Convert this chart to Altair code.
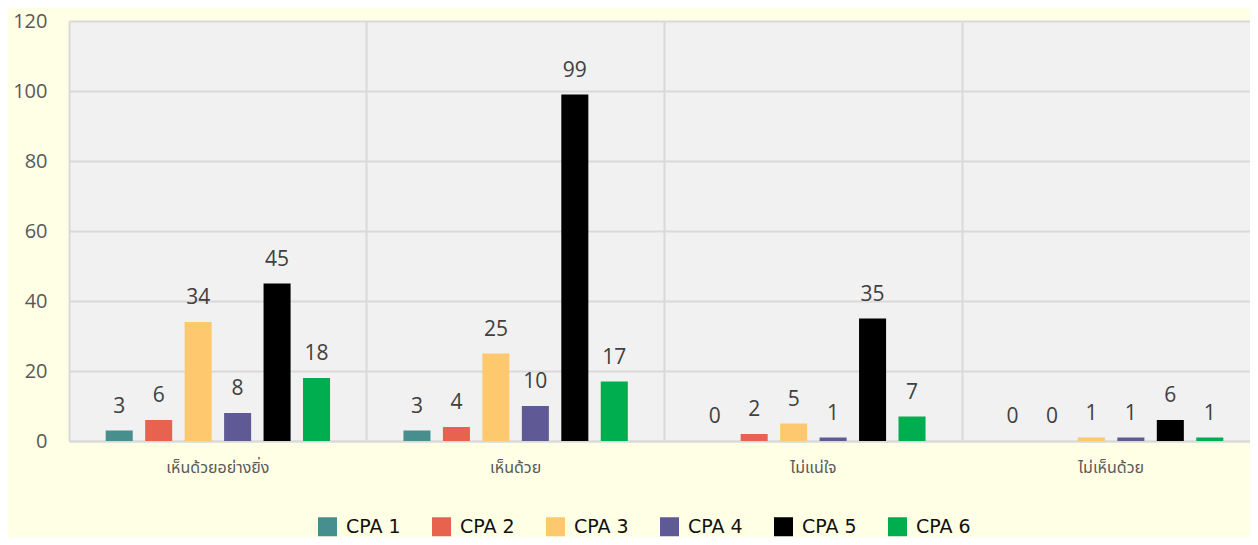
import altair as alt
import pandas as pd

categories = ["เห็นด้วยอย่างยิ่ง", "เห็นด้วย", "ไม่แน่ใจ", "ไม่เห็นด้วย"]
series = ["CPA 1", "CPA 2", "CPA 3", "CPA 4", "CPA 5", "CPA 6"]
cpa1 = [3, 3, 0, 0]
cpa2 = [6, 4, 2, 0]
cpa3 = [34, 25, 5, 1]
cpa4 = [8, 10, 1, 1]
cpa5 = [45, 99, 35, 6]
cpa6 = [18, 17, 7, 1]
colors = ["#468F8E", "#E8634F", "#FDC86E", "#5F5A96", "#000000", "#00AD4F"]
y_ticks = [0, 20, 40, 60, 80, 100, 120]

rows = []
for s, vals in zip(series, [cpa1, cpa2, cpa3, cpa4, cpa5, cpa6]):
    for c, v in zip(categories, vals):
        rows.append({"category": c, "series": s, "value": v})
df = pd.DataFrame(rows)

GRID = "#D9D9D9"
NUMFONT = "Open Sans"
THAIFONT = "Tahoma, Leelawadee UI, Noto Sans Thai, DejaVu Sans, sans-serif"

base = alt.Chart(df).encode(
    x=alt.X(
        "category:N",
        sort=categories,
        scale=alt.Scale(range=[0, 1191], paddingInner=0, paddingOuter=0),
        axis=alt.Axis(
            title=None, labelAngle=0, grid=True, bandPosition=0,
            gridColor=GRID, gridWidth=2, ticks=False,
            domainColor=GRID, domainWidth=2,
            labelFont=THAIFONT, labelFontSize=16, labelColor="#595959",
            labelPadding=18,
        ),
    ),
    xOffset=alt.XOffset(
        "series:N", sort=series,
        scale=alt.Scale(paddingInner=0.315, paddingOuter=0.93),
    ),
)

bars = base.mark_bar().encode(
    y=alt.Y(
        "value:Q",
        scale=alt.Scale(domain=[0, 120]),
        axis=alt.Axis(
            values=y_ticks, title=None, domain=False, ticks=False,
            gridColor=GRID, gridWidth=2,
            labelFont=NUMFONT, labelFontSize=20, labelColor="#595959",
            labelPadding=22,
        ),
    ),
    color=alt.Color(
        "series:N",
        scale=alt.Scale(domain=series, range=colors),
        legend=alt.Legend(
            title=None, orient="none", legendX=249, legendY=496,
            direction="horizontal", columns=6,
            symbolType="square", symbolSize=361, symbolStrokeWidth=0,
            symbolOpacity=1,
            labelFont="DejaVu Sans", labelFontSize=19, labelColor="#111111",
            labelOffset=9, columnPadding=31,
        ),
    ),
)

text = base.mark_text(
    baseline="bottom", dy=-14, fontSize=21, font=NUMFONT, color="#404040"
).encode(
    y="value:Q",
    text="value:Q",
)

chart = (
    alt.layer(bars, text)
    .properties(
        width=1181,
        height=420,
        background="#FFFFE6",
        padding={"left": 61, "top": 13, "right": 0, "bottom": 96},
        autosize=alt.AutoSizeParams(type="none"),
    )
    .configure_view(fill="#F1F1F1", strokeWidth=0)
)

chart.save("out.html", embed_options={"renderer": "svg", "actions": False})
